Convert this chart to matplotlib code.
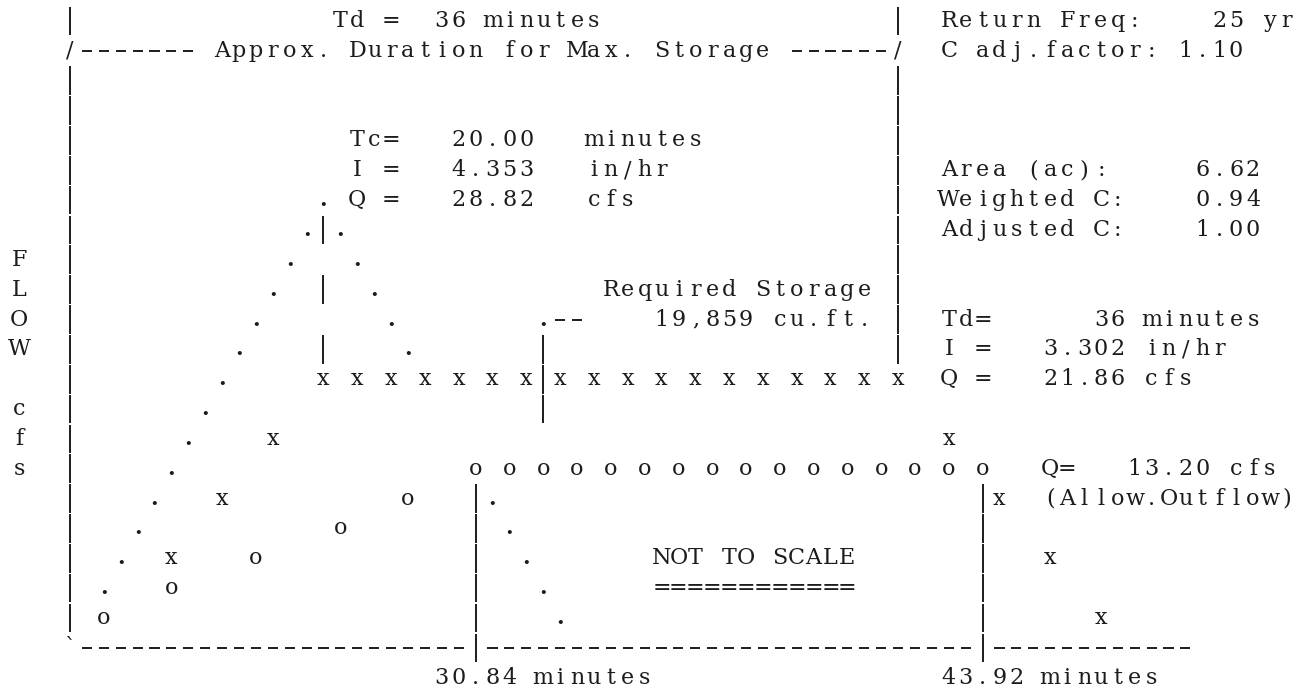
import matplotlib
matplotlib.use('Agg')
import matplotlib.pyplot as plt

# --- data (t = character columns from the axis, q = print rows above the base line)
inflow_t = [2, 3, 4, 5, 6, 7, 8, 9, 10, 11, 12, 13, 14, 15, 16, 17, 18, 19, 20, 25, 26, 27, 28, 29]
inflow_q = [2, 3, 4, 5, 6, 7, 8, 9, 10, 11, 12, 13, 14, 15, 14, 13, 12, 11, 10, 5, 4, 3, 2, 1]

td_t = [6, 9, 12, 15, 17, 19, 21, 23, 25, 27, 29, 31, 33, 35, 37, 39, 41, 43, 45, 47, 49, 52, 55, 58, 61]
td_q = [3, 5, 7, 9, 9, 9, 9, 9, 9, 9, 9, 9, 9, 9, 9, 9, 9, 9, 9, 9, 9, 7, 5, 3, 1]

out_t = [2, 6, 11, 16, 20, 24, 26, 28, 30, 32, 34, 36, 38, 40, 42, 44, 46, 48, 50, 52, 54]
out_q = [1, 2, 3, 4, 5, 6, 6, 6, 6, 6, 6, 6, 6, 6, 6, 6, 6, 6, 6, 6, 6]

tc_time = 15        # Tc marker
td_start = 28       # Td marker left
td_end = 49         # Td marker right
store_start = 24    # 30.84 minutes
store_end = 54      # 43.92 minutes

# --- printout grid (pixels)
PITCH = 16.9
COL0 = 19.3
ROWH = 29.85
ROW0 = 21.0
W, H = 1309, 693
AXIS_COL = 3
BASE_ROW = 21

INK = '#1c1c1c'
FONT = 'DejaVu Serif'
FS = 16


fig = plt.figure(figsize=(W / 100, H / 100), dpi=100, facecolor='white')
ax = fig.add_axes([0, 0, 1, 1])
ax.set_xlim((0 - COL0) / PITCH - AXIS_COL, (W - COL0) / PITCH - AXIS_COL)
ax.set_ylim(BASE_ROW - (H - ROW0) / ROWH, BASE_ROW - (0 - ROW0) / ROWH)
ax.axis('off')


def glyph(t, q, ch, weight='normal'):
    if ch == ' ':
        return
    if ch == '|':
        ax.plot([t, t], [q - 0.48, q + 0.48], color=INK, lw=1.4, solid_capstyle='butt')
    elif ch == '-':
        ax.plot([t - 0.3, t + 0.3], [q, q], color=INK, lw=1.4, solid_capstyle='butt')
    else:
        ax.text(t, q, ch, ha='center', va='center', fontsize=FS, family=FONT,
                color=INK, fontweight=weight)


def put(row, col, s):
    for i, ch in enumerate(s):
        glyph(col - AXIS_COL + i, BASE_ROW - row, ch)


# header and side texts
put(0, 19, 'Td =  36 minutes')
put(0, 55, 'Return Freq:    25 yr')
put(1, 3, '/-------')
put(1, 12, 'Approx. Duration for Max. Storage')
put(1, 46, '------/')
put(1, 55, 'C adj.factor: 1.10')
put(4, 20, 'Tc=   20.00   minutes')
put(5, 20, 'I =   4.353   in/hr')
put(6, 20, 'Q =   28.82   cfs')
put(5, 55, 'Area (ac):     6.62')
put(6, 55, 'Weighted C:    0.94')
put(7, 55, 'Adjusted C:    1.00')
put(9, 35, 'Required Storage')
put(10, 38, '19,859 cu.ft.')
put(10, 55, 'Td=      36 minutes')
put(11, 55, 'I =   3.302 in/hr')
put(12, 55, 'Q =   21.86 cfs')
put(15, 61, 'Q=   13.20 cfs')
put(16, 61, '(Allow.Outflow)')
put(18, 38, 'NOT TO SCALE')
put(19, 38, '============')
put(22, 25, '30.84 minutes')
put(22, 55, '43.92 minutes')

for r, ch in zip([8, 9, 10, 11, 13, 14, 15], 'FLOWcfs'):
    put(r, 0, ch)

# axes of the printout
for r in [0] + list(range(2, 21)):
    put(r, AXIS_COL, '|')
put(21, AXIS_COL, '`')
put(21, AXIS_COL + 1, '-' * (store_start - 1))
put(21, AXIS_COL + store_start + 1, '-' * (store_end - store_start - 1))
put(21, AXIS_COL + store_end + 1, '-' * 12)

# marker lines
for r in [0] + list(range(2, 12)):
    glyph(td_end, BASE_ROW - r, '|')
for q in [14, 12, 10]:
    glyph(tc_time, q, '|')
glyph(td_start, 11, '.', 'bold')
glyph(td_start + 1, 11, '-')
glyph(td_start + 2, 11, '-')
for q in [8, 9, 10]:
    glyph(td_start, q, '|')
for q in range(0, 6):
    glyph(store_start, q, '|')
    glyph(store_end, q, '|')

# hydrographs
for t, q in zip(inflow_t, inflow_q):
    glyph(t, q, '.', 'bold')
for t, q in zip(td_t, td_q):
    glyph(t, q, 'x')
for t, q in zip(out_t, out_q):
    glyph(t, q, 'o')

fig.savefig('out.png', dpi=100, facecolor='white')
